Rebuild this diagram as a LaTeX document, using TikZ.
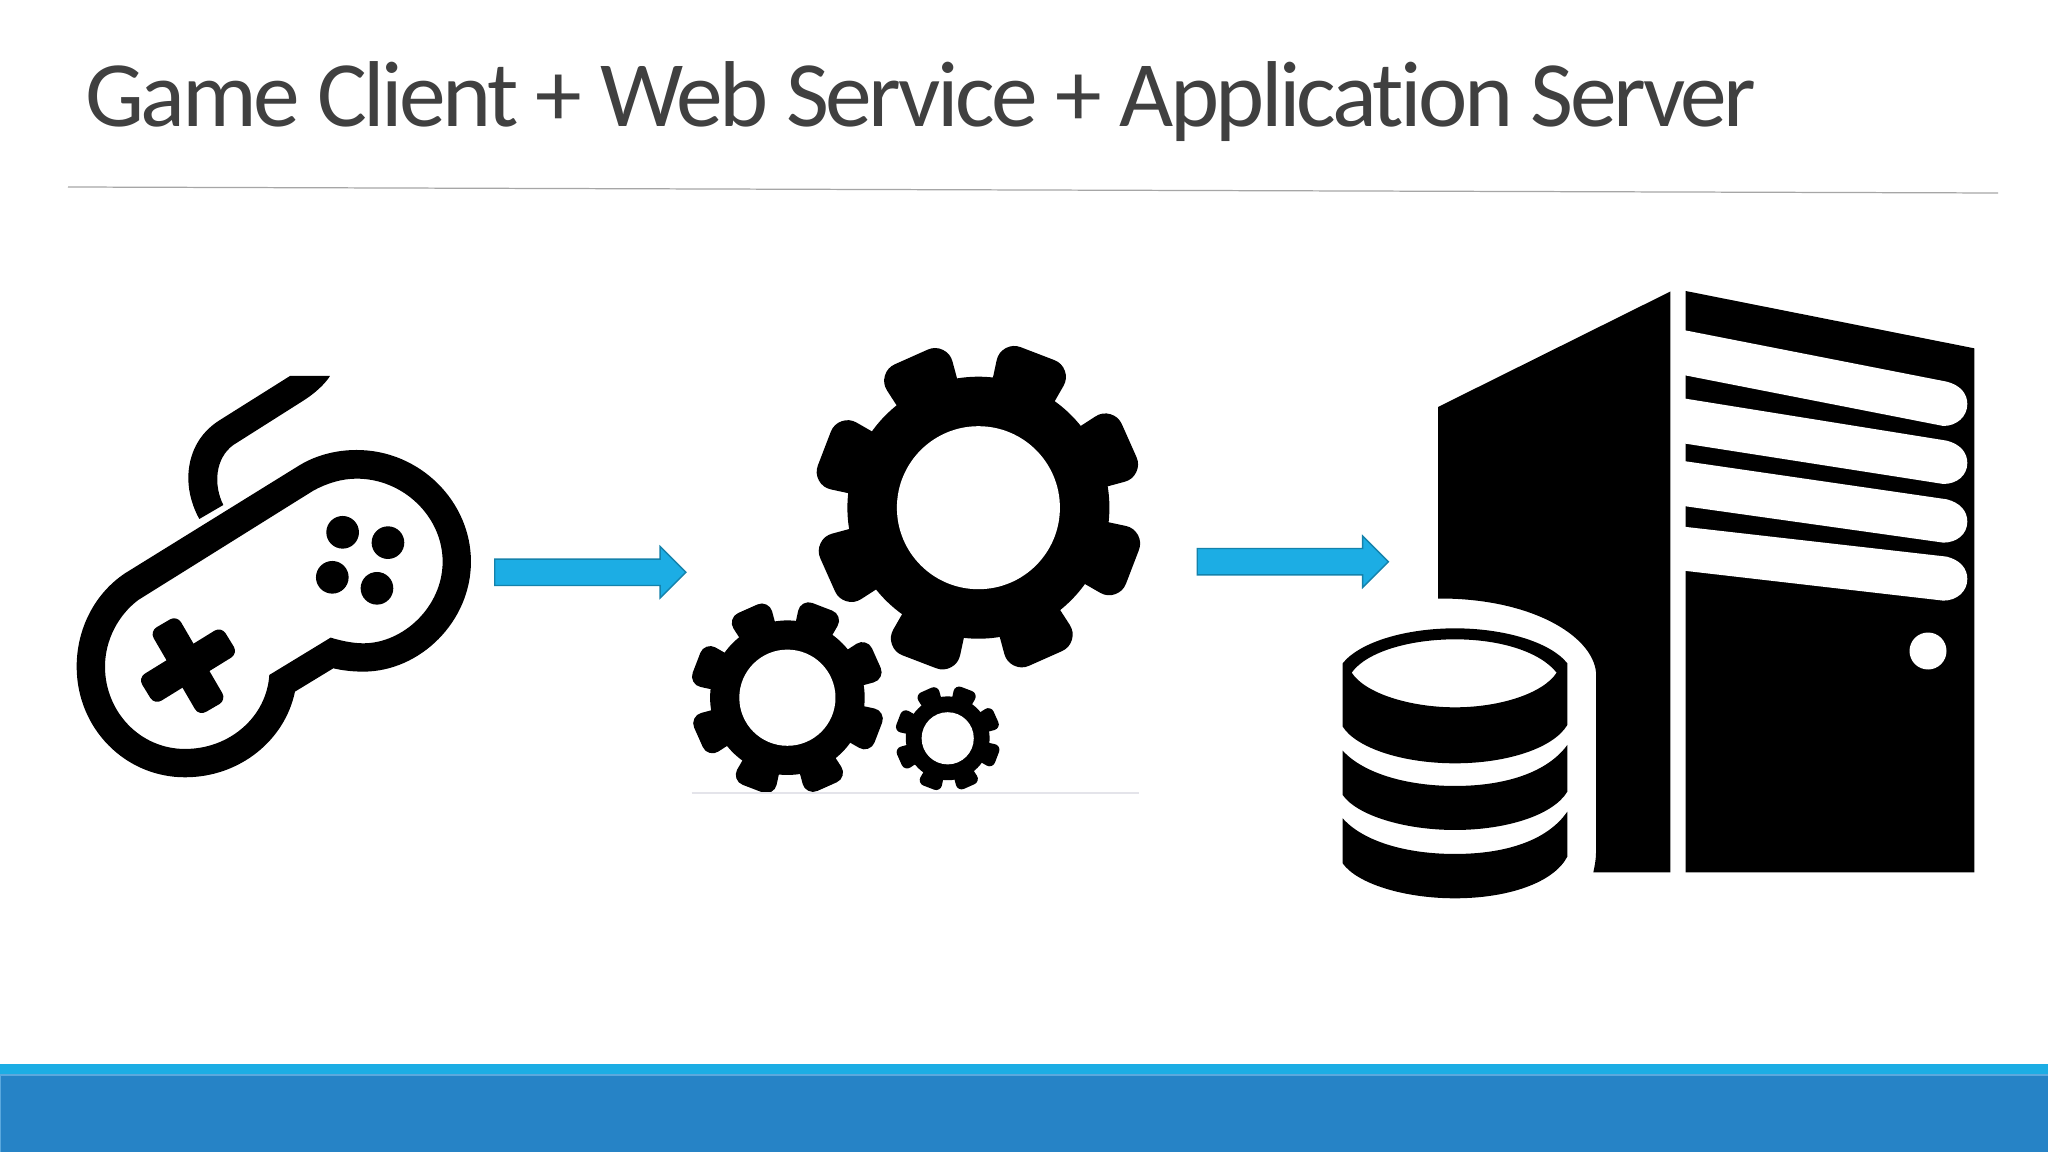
\documentclass[tikz,border=0pt]{standalone}
\usepackage{xcolor}
\usepackage{fontspec}
\setmainfont{Carlito}
\newfontfamily\titlefont{Carlito}[LetterSpace=-3.8,Ligatures=NoCommon]
\usetikzlibrary{shapes.arrows}
\definecolor{titlegray}{HTML}{404040}
\definecolor{rulegray}{HTML}{A6A6A6}
\definecolor{faintline}{HTML}{E4E4EA}
\definecolor{lightblue}{HTML}{1CADE4}
\definecolor{edgeblue}{HTML}{1482AB}
\definecolor{darkblue}{HTML}{2683C6}
\definecolor{seamblue}{HTML}{5BA8DD}
\tikzset{
    flowarrow/.style={single arrow, fill=lightblue, draw=edgeblue, line width=0.4pt,
        inner sep=0pt, text height=0.25cm, text depth=0pt, minimum height=1.91cm,
        single arrow head extend=0.125cm, single arrow head indent=0pt,
        single arrow tip angle=90, anchor=tail},
    titletext/.style={anchor=base west, inner sep=0pt, text=titlegray}
}
% gear: centre x, centre y, size
\newcommand{\gearicon}[3]{
    \begin{scope}[shift={(#1,#2)}, scale=#3]
        \fill (0,0) circle (131);
        \foreach \a in {0,45,...,315} {
            \filldraw[rotate=69+\a, line width=#3*0.36cm, line join=round] (115,-13) -- (147,-18) -- (147,18) -- (115,13) -- cycle;
        }
        \fill[white] (0,0) circle (81.5);
    \end{scope}
}

\begin{document}
\begin{tikzpicture}[x=0.01cm, y=-0.01cm]
    \useasboundingbox (0,0) rectangle (2048,1152);
    \fill[white] (0,0) rectangle (2048,1152);
    % Title
    \node[titletext] (title) at (84.5,127) {\titlefont\fontsize{26.6}{32}\selectfont Game Client + Web Service + Application Server};
    \coordinate (ruleleft) at (68,187);
    \coordinate (ruleright) at (1998,193);
    \draw[rulegray, line width=0.35pt] (ruleleft) -- (ruleright);
    % Bottom bars
    \fill[lightblue] (0,1063.5) rectangle (2048,1074);
    \fill[seamblue] (0,1074) rectangle (2048,1152);
    \fill[darkblue] (1.5,1075.5) rectangle (2048,1152);
    % Controller
    \begin{scope}[shift={(70,370)}, scale=0.3333]
        \fill[even odd rule] (165,610) -- (690,285) .. controls (740,255) and (800,240) .. (860,240)
            .. controls (1050,240) and (1203,395) .. (1203,575)
            .. controls (1203,755) and (1050,905) .. (880,905)
            .. controls (850,905) and (820,902) .. (790,895) -- (675,965)
            .. controls (645,1110) and (510,1222) .. (345,1222)
            .. controls (165,1222) and (20,1075) .. (20,890)
            .. controls (20,775) and (75,670) .. (165,610) -- cycle
            (205,690) -- (730,362) .. controls (770,340) and (815,326) .. (860,326)
            .. controls (1000,326) and (1118,440) .. (1118,575)
            .. controls (1118,710) and (1000,820) .. (880,820)
            .. controls (850,820) and (815,813) .. (782,803) -- (598,915)
            .. controls (590,1040) and (480,1137) .. (345,1137)
            .. controls (210,1137) and (105,1025) .. (105,890)
            .. controls (105,810) and (145,735) .. (205,690) -- cycle;
        % Cable
        \fill (388,447) -- (460,405) .. controls (430,345) and (435,265) .. (490,225)
            -- (700,92) .. controls (735,70) and (765,42) .. (780,18) -- (660,18) -- (450,150)
            .. controls (385,190) and (355,255) .. (355,325)
            .. controls (355,370) and (370,415) .. (388,447) -- cycle;
        % Buttons
        \foreach \bx/\by in {818/487, 954/518, 787/622, 921/655} {
            \fill (\bx,\by) circle (49);
        }
    \end{scope}
    % Cross
    \begin{scope}[shift={(120,600)}, scale=0.3333]
        \filldraw[line width=0.16cm, line join=round] (121.8,102.5) -- (162.4,78.9) -- (286.2,291.5) -- (245.6,315.1) -- cycle;
        \filldraw[line width=0.16cm, line join=round] (296.3,112.5) -- (320.9,152.5) -- (111.7,281.5) -- (87.1,241.5) -- cycle;
    \end{scope}
    % Arrows
    \node[flowarrow] (clientarrow) at (494,572.3) {};
    \node[flowarrow] (servicearrow) at (1196.5,561.7) {};
    % Gears
    \gearicon{978.4}{507.7}{1}
    \gearicon{787.4}{697.7}{0.59}
    \gearicon{947.7}{738.3}{0.32}
    \coordinate (lineleft) at (691.5,793);
    \coordinate (lineright) at (1139,793);
    \draw[faintline, line width=0.5pt] (lineleft) -- (lineright);
    % Server
    \fill (1438,407) -- (1670.4,291.5) -- (1670.4,872.4) -- (1593.3,872.4) .. controls (1595,865) and (1596,858) .. (1596,853)
        -- (1596,672) .. controls (1592,635) and (1530,598) .. (1438,598.5) -- cycle;
    \begin{scope}[shift={(1660,280)}, scale=0.3333]
        \fill (77,33) -- (943,205) -- (943,1777) -- (77,1777) -- cycle;
        % Vents
        \foreach \ya/\yb/\yc/\yd in {150/305/438/285, 355/482/612/490, 543/658/788/678, 740/830/962/872} {
            \fill[white] (70,\ya) -- (860,\yb) .. controls (900,\yb+10) and (922,\yb+35) .. (922,\yb+67)
                .. controls (922,\yb+105) and (890,\yc) .. (850,\yc) -- (70,\yd) -- cycle;
        }
    \end{scope}
    \fill[white] (1928,651) circle (18.5);
    % Database
    \begin{scope}[shift={(1330,600)}, scale=0.3333]
        \fill[even odd rule] (38,190) .. controls (90,125) and (230,85) .. (375,85)
            .. controls (520,85) and (660,125) .. (712,190) -- (712,375)
            .. controls (670,445) and (530,490) .. (375,490)
            .. controls (220,490) and (80,445) .. (38,380) -- cycle
            (65,218) .. controls (110,155) and (240,118) .. (375,118)
            .. controls (510,118) and (630,155) .. (680,218)
            .. controls (640,280) and (510,322) .. (375,322)
            .. controls (240,322) and (105,280) .. (65,218) -- cycle;
        \fill (38,452) .. controls (100,520) and (230,558) .. (375,558)
            .. controls (520,558) and (650,520) .. (712,435) -- (712,575)
            .. controls (670,645) and (530,690) .. (375,690)
            .. controls (220,690) and (80,645) .. (38,585) -- cycle;
        \fill (38,655) .. controls (100,725) and (230,762) .. (375,762)
            .. controls (520,762) and (650,725) .. (712,635) -- (712,770)
            .. controls (670,850) and (530,895) .. (375,895)
            .. controls (220,895) and (80,850) .. (38,790) -- cycle;
    \end{scope}
\end{tikzpicture}
\end{document}
